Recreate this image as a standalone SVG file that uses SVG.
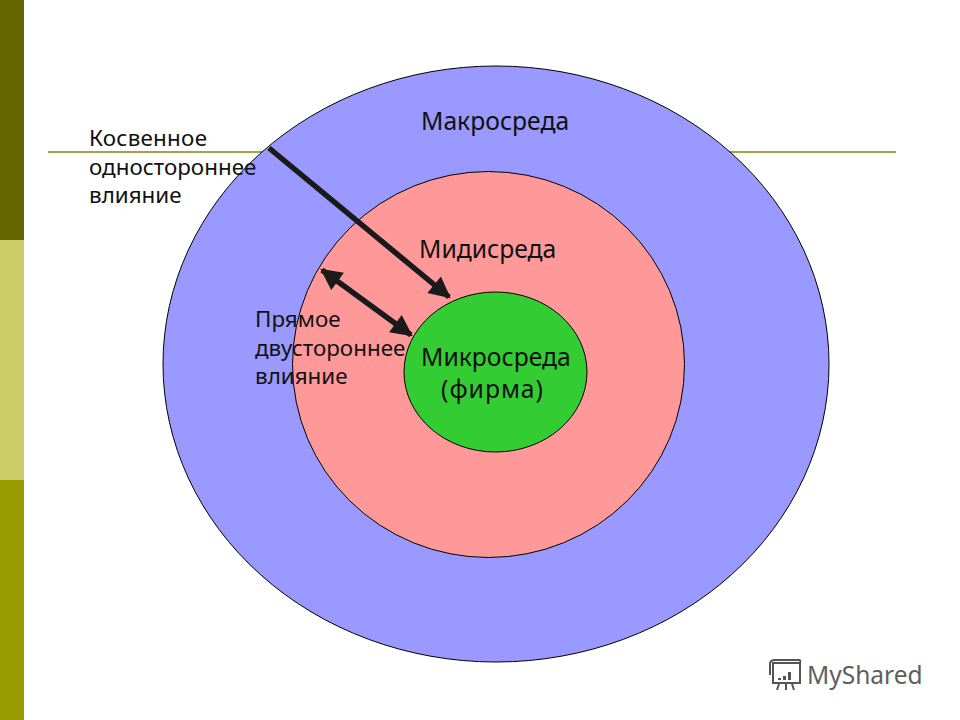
<svg xmlns="http://www.w3.org/2000/svg" width="960" height="720" viewBox="0 0 960 720">
<style>
.o{stroke:#000;stroke-width:1}
.t{font-family:"Noto Sans","DejaVu Sans",sans-serif;fill:#000}
.l{font-size:22.4px;fill:#111}
.b{font-size:24.7px;fill:#111}
.a{stroke:#1a1a1a;stroke-width:5.500;fill:none}
.i{fill:none;stroke:#555;stroke-width:2}
</style>
<defs>
<marker id="h" viewBox="0 0 10 10" refX="9" refY="5" markerWidth="4.300" markerHeight="3.900" orient="auto-start-reverse"><path d="M0 0L10 5L0 10Z" fill="#1a1a1a"/></marker>
</defs>
<rect width="960" height="720" fill="#fff"/>
<g id="background">
<rect x="0" y="0" width="24" height="240" fill="#666600"/>
<rect x="0" y="240" width="24" height="240" fill="#cccc66"/>
<rect x="0" y="480" width="24" height="240" fill="#999900"/>
<rect x="48" y="151" width="848" height="2" fill="#a3a347"/>
</g>
<g id="macro">
<ellipse class="o" cx="496" cy="364" rx="333" ry="298" fill="#9999ff"/>
<text class="t b" x="421" y="130">Макросреда</text>
</g>
<g id="midi">
<ellipse class="o" cx="488.500" cy="364.500" rx="196" ry="193" fill="#ff9999"/>
<text class="t b" x="419" y="258">Мидисреда</text>
</g>
<g id="micro">
<ellipse class="o" cx="495.500" cy="372" rx="91.500" ry="80" fill="#33cc33"/>
<text class="t b" x="421" y="366">Микросреда</text>
<text class="t b" x="441" y="398" textLength="102" lengthAdjust="spacing">(фирма)</text>
</g>
<g id="connectors">
<path class="a" d="M269 148L449 297" marker-end="url(#h)"/>
<path class="a" d="M322 270L411 335" marker-start="url(#h)" marker-end="url(#h)"/>
</g>
<g id="label-indirect">
<text class="t l" x="89" y="146" textLength="118" lengthAdjust="spacing">Косвенное</text>
<text class="t l" x="89" y="175">одностороннее</text>
<text class="t l" x="89" y="203">влияние</text>
</g>
<g id="label-direct">
<text class="t l" x="255" y="327">Прямое</text>
<text class="t l" x="255" y="356">двустороннее</text>
<text class="t l" x="255" y="384">влияние</text>
</g>
<g id="logo">
<path class="i" d="M773 663H800V683H773ZM770 675V664Q770 660 775 660H799Q801 660 800 663M779 684L777 690M786 684V690M792 684L794 690"/>
<path d="M778 678h3v2h-3zM783 676h3v4h-3zM788 672h3v8h-3z" fill="#555"/>
<text x="807" y="684" font-family="Noto Sans, sans-serif" font-size="24.500" fill="#5e5e5e">MyShared</text>
</g>
</svg>
